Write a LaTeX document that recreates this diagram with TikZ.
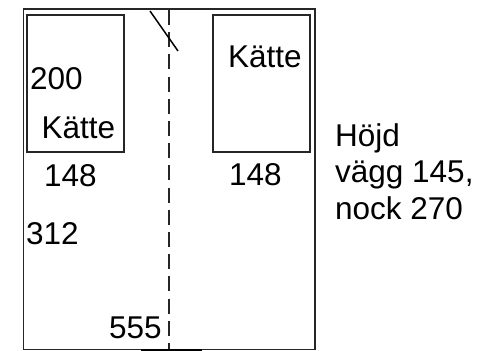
\documentclass[tikz,border=0pt]{standalone}
\usepackage{fontspec}
\setmainfont{Liberation Sans}
\tikzset{
	wall/.style = {draw, line width=1.7pt, color=black!85},
	room/.style = {draw, line width=1.6pt, color=black!85, minimum width=97pt, minimum height=137pt, inner sep=0pt},
	lbl/.style = {anchor=base west, inner sep=0pt, text=black, font=\fontsize{31.5}{36.5}\selectfont},
}
\begin{document}
\begin{tikzpicture}[x=1pt,y=-1pt]
	\useasboundingbox (0,0) rectangle (477,351);
	\node[wall, minimum width=291.5pt, minimum height=340.5pt, inner sep=0pt] (house) at (169.25,179.25) {};
		\node[room] (roomL) at (75.5,83.5) {};
		\node[room] (roomR) at (261.5,83.5) {};
	%	ridge and door
		\coordinate (ridgeT) at (169,10);
		\coordinate (ridgeB) at (169,349);
		\coordinate (doorA) at (150,11);
		\coordinate (doorB) at (178,51);
		\coordinate (sillA) at (141,349.5);
		\coordinate (sillB) at (202,349.5);
		\draw[line width=1.5pt, dash pattern=on 15pt off 7.2pt, color=black!85] (ridgeT) -- (ridgeB);
		\draw[line width=1.5pt] (doorA) -- (doorB);
		\draw[line width=2pt] (sillA) -- (sillB);
	%	measures
		\node[lbl] (lenL) at (30,89) {200};
		\node[lbl] (nameL) at (41.5,138) {Kätte};
		\node[lbl] (nameR) at (228,67) {Kätte};
		\node[lbl] (widL) at (44,186) {148};
		\node[lbl] (widR) at (229,185) {148};
		\node[lbl] (side) at (26,244) {312};
		\node[lbl] (total) at (109,338) {555};
		\node[lbl] (hojd) at (335,146) {Höjd};
		\node[lbl] (vagg) at (335,182.5) {vägg 145,};
		\node[lbl] (nock) at (335,219) {nock 270};
	\end{tikzpicture}
\end{document}
